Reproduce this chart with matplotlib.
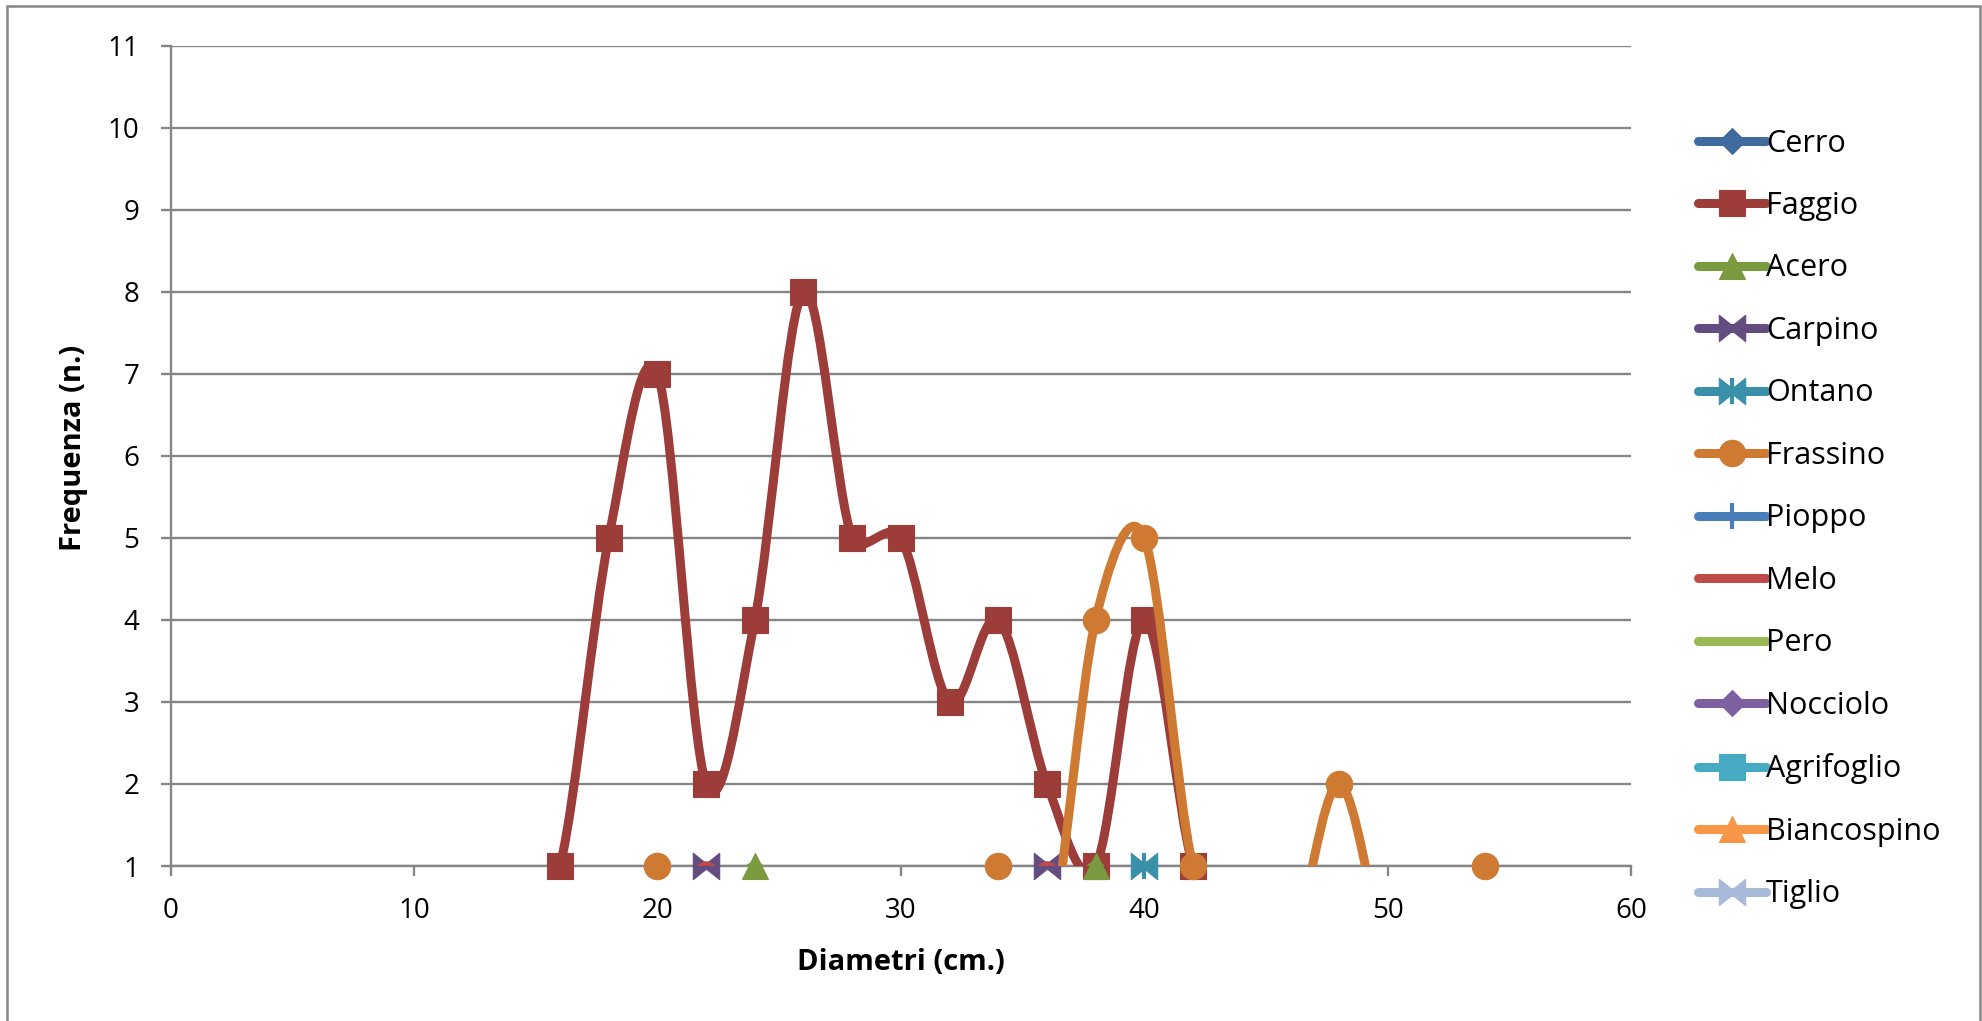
import numpy as np
import matplotlib.pyplot as plt
from matplotlib.path import Path
from matplotlib.patches import PathPatch, Rectangle
from matplotlib.lines import Line2D
from matplotlib.legend_handler import HandlerTuple

# classi diametriche (cm) e frequenze per specie
diametri = [14, 16, 18, 20, 22, 24, 26, 28, 30, 32, 34, 36, 38, 40, 42, 44, 46, 48, 50, 52, 54, 56]

cerro       = [0, 0, 0, 0, 0, 0, 0, 0, 0, 0, 0, 0, 0, 0, 0, 0, 0, 0, 0, 0, 0, 0]
faggio      = [0, 1, 5, 7, 2, 4, 8, 5, 5, 3, 4, 2, 1, 4, 1, 0, 0, 0, 0, 0, 0, 0]
acero       = [0, 0, 0, 0, 0, 1, 0, 0, 0, 0, 0, 0, 1, 0, 0, 0, 0, 0, 0, 0, 0, 0]
carpino     = [0, 0, 0, 0, 1, 0, 0, 0, 0, 0, 0, 1, 0, 0, 0, 0, 0, 0, 0, 0, 0, 0]
ontano      = [0, 0, 0, 0, 0, 0, 0, 0, 0, 0, 0, 0, 0, 1, 0, 0, 0, 0, 0, 0, 0, 0]
frassino    = [0, 0, 0, 1, 0, 0, 0, 0, 0, 0, 1, 0, 4, 5, 1, 0, 0, 2, 0, 0, 1, 0]
pioppo      = [0, 0, 0, 0, 0, 0, 0, 0, 0, 0, 0, 0, 0, 0, 0, 0, 0, 0, 0, 0, 0, 0]
melo        = [0, 0, 0, 0, 1, 0, 0, 0, 0, 0, 0, 1, 0, 0, 0, 0, 0, 0, 0, 0, 0, 0]
pero        = [0, 0, 0, 0, 0, 0, 0, 0, 0, 0, 0, 0, 0, 0, 0, 0, 0, 0, 0, 0, 0, 0]
nocciolo    = [0, 0, 0, 0, 0, 0, 0, 0, 0, 0, 0, 0, 0, 0, 0, 0, 0, 0, 0, 0, 0, 0]
agrifoglio  = [0, 0, 0, 0, 0, 0, 0, 0, 0, 0, 0, 0, 0, 0, 0, 0, 0, 0, 0, 0, 0, 0]
biancospino = [0, 0, 0, 0, 0, 0, 0, 0, 0, 0, 0, 0, 0, 0, 0, 0, 0, 0, 0, 0, 0, 0]
tiglio      = [0, 0, 0, 0, 0, 0, 0, 0, 0, 0, 0, 0, 0, 0, 0, 0, 0, 0, 0, 0, 0, 0]

nomi = ["Cerro", "Faggio", "Acero", "Carpino", "Ontano", "Frassino", "Pioppo",
        "Melo", "Pero", "Nocciolo", "Agrifoglio", "Biancospino", "Tiglio"]
serie = [cerro, faggio, acero, carpino, ontano, frassino, pioppo,
         melo, pero, nocciolo, agrifoglio, biancospino, tiglio]

colori = ["#3F6B9F", "#9C3D3A", "#799A3F", "#634C80", "#3990A8", "#CF7A32", "#4A7EBB",
          "#BE4B48", "#98B954", "#7D60A0", "#46AAC5", "#F79646", "#A9B9D9"]

# farfallina (marker "x" di Excel)
BOWTIE = Path([(-1, 1), (0, 0.2), (1, 1), (1, -1), (0, -0.2), (-1, -1), (-1, 1)],
              [Path.MOVETO] + [Path.LINETO] * 5 + [Path.CLOSEPOLY])

# (marker, dimensione) per ogni serie; None = solo linea
marker = [("D", 13.5), ("s", 19), ("^", 19), (BOWTIE, 19), (BOWTIE, 19), ("o", 19),
          ("|", 19), (None, 0), (None, 0), ("D", 13.5), ("s", 19), ("^", 19), (BOWTIE, 19)]

W, H = 1982, 1021
AX_L, AX_R, AX_T, AX_B = 170.7, 1631.0, 45.7, 866.0   # area del grafico in pixel
LW = 6.5
GRIGIO = "#868686"
FONT = "Open Sans"
FS_LEG = 22


def curva_smussata(x, y, sx, sy):
    """Linea smussata alla Excel: bezier cubiche, tensione 1/6 limitata
    a meta' del segmento (distanze misurate in pixel)."""
    pts = np.column_stack([x, y]).astype(float)
    scala = np.array([sx, sy])

    def dist(a, b):
        return np.hypot(*((b - a) * scala))

    n = len(pts)
    verts = [pts[0]]
    codes = [Path.MOVETO]
    for i in range(n - 1):
        p1, p2 = pts[i], pts[i + 1]
        d12 = dist(p1, p2)
        if i == 0:
            c1 = p1 + (p2 - p1) / 3
        else:
            p0 = pts[i - 1]
            d02 = dist(p0, p2)
            f = 1 / 6 if d02 / 6 < d12 / 2 else d12 / (2 * d02)
            c1 = p1 + (p2 - p0) * f
        if i == n - 2:
            c2 = p2 - (p2 - p1) / 3
        else:
            p3 = pts[i + 2]
            d13 = dist(p1, p3)
            g = 1 / 6 if d13 / 6 < d12 / 2 else d12 / (2 * d13)
            c2 = p2 - (p3 - p1) * g
        verts += [c1, c2, p2]
        codes += [Path.CURVE4] * 3
    return Path(verts, codes)


fig = plt.figure(figsize=(W / 100, H / 100), dpi=100)
ax = fig.add_axes([AX_L / W, 1 - AX_B / H, (AX_R - AX_L) / W, (AX_B - AX_T) / H])

XMIN, XMAX, YMIN, YMAX = 0, 60, 1, 11
sx = (AX_R - AX_L) / (XMAX - XMIN)
sy = (AX_B - AX_T) / (YMAX - YMIN)

x = np.array(diametri)
handles = []
for i, (nome, y, col, (mk, ms)) in enumerate(zip(nomi, serie, colori, marker)):
    y = np.array(y, dtype=float)
    ax.add_patch(PathPatch(curva_smussata(x, y, sx, sy), facecolor="none", edgecolor=col,
                           lw=LW, joinstyle="round", capstyle="round", zorder=3 + 2 * i))
    vis = y >= YMIN
    mew = 3 if mk == "|" else 0.8
    if mk is not None and vis.any():
        ax.plot(x[vis], y[vis], ls="none", marker=mk, ms=ms, color=col, mec=col, mew=mew,
                clip_on=False, zorder=4 + 2 * i)
        if nome == "Ontano":
            ax.plot(x[vis], y[vis], ls="none", marker="|", ms=ms, mec=col, mew=3,
                    clip_on=False, zorder=4 + 2 * i)
    h = Line2D([], [], color=col, lw=LW, solid_capstyle="round",
               marker=mk, ms=ms, mec=col, mew=mew)
    if nome == "Ontano":
        h = (h, Line2D([], [], ls="none", marker="|", ms=ms, mec=col, mew=3))
    handles.append(h)

ax.set_xlim(XMIN, XMAX)
ax.set_ylim(YMIN, YMAX)
ax.set_xticks(range(0, 61, 10))
ax.set_yticks(range(1, 12))
ax.yaxis.grid(True, color=GRIGIO, lw=1.7)
ax.set_axisbelow(True)
for s in ["top", "right"]:
    ax.spines[s].set_visible(False)
for s in ["left", "bottom"]:
    ax.spines[s].set_color(GRIGIO)
    ax.spines[s].set_linewidth(1.7)
    ax.spines[s].set_zorder(2)
ax.tick_params(axis="both", direction="out", length=7.5, width=1.7, color=GRIGIO,
               labelsize=20, pad=15)
for lab in ax.get_xticklabels() + ax.get_yticklabels():
    lab.set_family(FONT)

ax.set_xlabel("Diametri (cm.)", fontsize=21, fontweight="bold", family=FONT)
ax.set_ylabel("Frequenza (n.)", fontsize=21, fontweight="bold", family=FONT)
ax.xaxis.set_label_coords(0.5, (AX_B - 962) / (AX_B - AX_T))
ax.xaxis.label.set_va("center")
ax.yaxis.set_label_coords((74 - AX_L) / (AX_R - AX_L), 0.51)
ax.yaxis.label.set_va("center")

fs_px = FS_LEG * 100 / 72
fig.legend(handles, nomi, loc="upper left",
           bbox_to_anchor=(1698 / W, 1 - 128.5 / H), frameon=False,
           prop={"family": FONT, "size": FS_LEG}, borderpad=0, borderaxespad=0,
           handlelength=68 / fs_px, handletextpad=0.0, labelspacing=1.063,
           numpoints=1, handler_map={tuple: HandlerTuple(ndivide=1)})

# cornice dell'area grafico
fig.add_artist(Rectangle((7 / W, -0.02), (1980 - 7) / W, 1.02 - 6 / H,
                         transform=fig.transFigure, fill=False, ec=GRIGIO, lw=1.8))

fig.savefig("out.png", dpi=100)
